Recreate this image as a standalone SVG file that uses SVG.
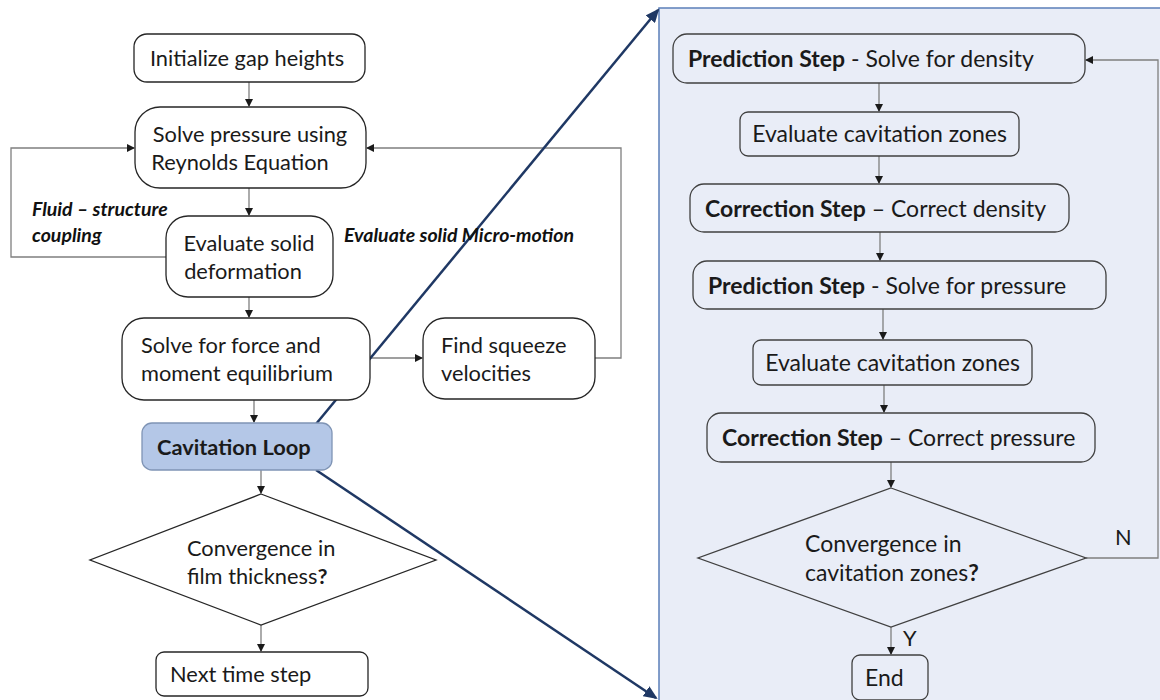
<svg xmlns="http://www.w3.org/2000/svg" width="1160" height="700" viewBox="0 0 1160 700">
<defs>
<marker id="ah" markerWidth="8" markerHeight="8" refX="7" refY="4" orient="auto" markerUnits="userSpaceOnUse"><path d="M0,0 L8,4 L0,8 z" fill="#1a1a1a"/></marker>
<marker id="bh" markerWidth="14" markerHeight="12" refX="12" refY="6" orient="auto" markerUnits="userSpaceOnUse"><path d="M0,0 L14,6 L0,12 z" fill="#1f3864"/></marker>
<style>
.n{fill:#fff;stroke:#262626;stroke-width:1.3}
.rn{fill:#e9edf7;stroke:#404040;stroke-width:1.3}
.t{font-family:Lato,"Noto Sans",sans-serif;font-size:21.8px;fill:#1a1a1a}
.r{font-size:23px}
.c{text-anchor:middle}
.b{font-weight:bold}
.bi{font-family:Lato,"Noto Sans",sans-serif;font-size:19.5px;font-weight:bold;font-style:italic;fill:#111}
.e{fill:none;stroke:#7f7f7f;stroke-width:1.3;marker-end:url(#ah)}
.bl{fill:none;stroke:#1f3864;stroke-width:2.5;marker-end:url(#bh)}
</style>
</defs>
<rect width="1160" height="700" fill="#fff"/>
<g id="panel"><rect x="659" y="8" width="510" height="700" fill="#e9edf7" stroke="#5b7fb9" stroke-width="1.5"/></g>
<g id="connectors">
<path class="e" d="M249,82 V106"/>
<path class="e" d="M249,188 V215"/>
<path class="e" d="M249,297 V317"/>
<path class="e" d="M254,400 V422"/>
<path class="e" d="M261,470 V493"/>
<path class="e" d="M261,625 V651"/>
<path class="e" d="M166,257 H11 V148 H134"/>
<path class="e" d="M370,358 H422"/>
<path class="e" d="M595,358 H621 V148 H367"/>
<path class="e" d="M879,83 V111"/>
<path class="e" d="M879,156 V183"/>
<path class="e" d="M880,232 V260"/>
<path class="e" d="M883,309 V339"/>
<path class="e" d="M884,385 V412"/>
<path class="e" d="M891,462 V487"/>
<path class="e" d="M891,627 V654"/>
<path class="e" d="M1086,558 H1158 V60 H1086"/>
<path class="bl" d="M316,424 L658,10"/>
<path class="bl" d="M316,470 L656,698"/>
</g>
<g id="labels">
<text class="bi" x="32" y="216">Fluid – structure</text>
<text class="bi" x="32" y="242">coupling</text>
<text class="bi" x="344" y="242">Evaluate solid Micro-motion</text>
<text class="t" x="1115" y="545">N</text>
<text class="t" x="903" y="646">Y</text>
</g>
<g id="init"><rect class="n" x="134" y="34" width="231" height="48" rx="13"/><text class="t c" x="247" y="66">Initialize gap heights</text></g>
<g id="pressure"><rect class="n" x="135" y="107" width="231" height="81" rx="25"/><text class="t c" x="250" y="142">Solve pressure using</text><text class="t c" x="240" y="170">Reynolds Equation</text></g>
<g id="deform"><rect class="n" x="166" y="216" width="167" height="81" rx="22"/><text class="t c" x="249" y="251">Evaluate solid</text><text class="t c" x="243" y="279">deformation</text></g>
<g id="force"><rect class="n" x="122" y="318" width="248" height="82" rx="22"/><text class="t" x="141" y="353">Solve for force and</text><text class="t" x="141" y="381">moment equilibrium</text></g>
<g id="squeeze"><rect class="n" x="423" y="318" width="172" height="81" rx="22"/><text class="t" x="441" y="353">Find squeeze</text><text class="t" x="441" y="381">velocities</text></g>
<g id="cavloop"><rect x="142" y="423" width="190" height="47" rx="10" fill="#b4c7e7" stroke="#7f94b5" stroke-width="1.3"/><text class="t b" x="157" y="455">Cavitation Loop</text></g>
<g id="conv1"><polygon class="n" points="261,494 436,560 261,625 90,560"/><text class="t" x="187" y="556">Convergence in</text><text class="t" x="187" y="584">film thickness<tspan class="b">?</tspan></text></g>
<g id="next"><rect class="n" x="156" y="652" width="212" height="44" rx="8"/><text class="t" x="170" y="682">Next time step</text></g>
<g id="pred1"><rect class="rn" x="673" y="34" width="412" height="49" rx="14"/><text class="t r" x="688" y="67"><tspan class="b">Prediction Step</tspan> - Solve for density</text></g>
<g id="eval1"><rect class="rn" x="740" y="112" width="279" height="44" rx="8"/><text class="t r c" x="879.5" y="142">Evaluate cavitation zones</text></g>
<g id="corr1"><rect class="rn" x="690" y="184" width="379" height="48" rx="14"/><text class="t r" x="705" y="217"><tspan class="b">Correction Step</tspan> – Correct density</text></g>
<g id="pred2"><rect class="rn" x="693" y="261" width="413" height="48" rx="14"/><text class="t r" x="708" y="294"><tspan class="b">Prediction Step</tspan> - Solve for pressure</text></g>
<g id="eval2"><rect class="rn" x="753" y="340" width="279" height="45" rx="8"/><text class="t r c" x="892.5" y="371">Evaluate cavitation zones</text></g>
<g id="corr2"><rect class="rn" x="707" y="413" width="388" height="49" rx="14"/><text class="t r" x="722" y="446"><tspan class="b">Correction Step</tspan> – Correct pressure</text></g>
<g id="conv2"><polygon class="rn" points="891,488 1086,558 891,627 698,558"/><text class="t r" x="805" y="552">Convergence in</text><text class="t r" x="805" y="581">cavitation zones<tspan class="b">?</tspan></text></g>
<g id="end"><rect class="rn" x="852" y="655" width="76" height="45" rx="8"/><text class="t r" x="865" y="686">End</text></g>
</svg>
